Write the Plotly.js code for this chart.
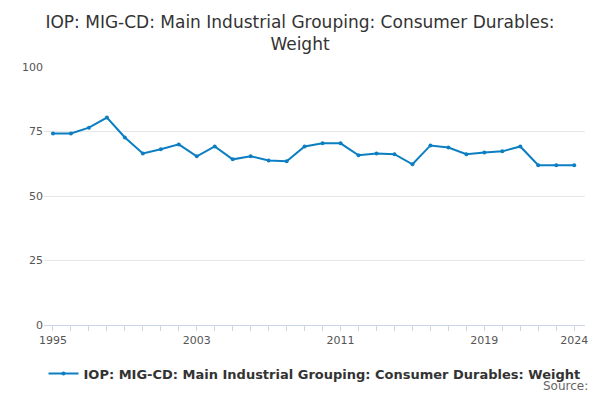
<!DOCTYPE html>
<html>
<head>
<script src="https://cdn.plot.ly/plotly-3.0.1.min.js"></script>
<style>body{margin:0}#chart{width:600px;height:400px}</style>
</head>
<body>
<div id="chart"></div>
<script>
const years = [1995,1996,1997,1998,1999,2000,2001,2002,2003,2004,2005,2006,2007,2008,2009,
  2010,2011,2012,2013,2014,2015,2016,2017,2018,2019,2020,2021,2022,2023,2024];
const weights = [74.2,74.2,76.5,80.4,72.7,66.5,68.1,70.0,65.4,69.2,64.2,65.4,63.8,63.5,69.2,
  70.4,70.4,65.8,66.5,66.2,62.3,69.6,68.8,66.2,66.9,67.3,69.2,61.9,61.9,61.9];
const tickYears = [1995, 2003, 2011, 2019, 2024];
const seriesName = "<b>IOP: MIG-CD: Main Industrial Grouping: Consumer Durables: Weight</b>";

const trace = {
  type: "scatter",
  mode: "lines+markers",
  x: years,
  y: weights,
  name: seriesName,
  line: { color: "#0b7fc1", width: 2 },
  marker: { color: "#0b7fc1", size: 4 },
};

const layout = {
  width: 600,
  height: 400,
  font: { family: "DejaVu Sans, sans-serif", color: "#555" },
  title: {
    text: "IOP: MIG-CD: Main Industrial Grouping: Consumer Durables:<br>Weight",
    font: { size: 17, color: "#333" },
    x: 0.5,
    y: 0.93,
    yanchor: "middle",
  },
  margin: { t: 67, r: 15, b: 73, l: 44 },
  xaxis: {
    range: [1994.5, 2024.6],
    tickvals: tickYears,
    ticks: "outside",
    ticklen: 5,
    tickcolor: "#ccd6eb",
    showline: true,
    linecolor: "#ccd6eb",
    showgrid: false,
    tickfont: { size: 11, color: "#555" },
    minor: { dtick: 1, ticks: "outside", ticklen: 5, tickcolor: "#ccd6eb" },
  },
  yaxis: {
    range: [0, 100],
    tickvals: [0, 25, 50, 75, 100],
    gridcolor: "#e6e6e6",
    zeroline: false,
    tickfont: { size: 11, color: "#555" },
  },
  showlegend: true,
  legend: {
    orientation: "h",
    x: 0.5,
    xanchor: "center",
    y: -0.13,
    yanchor: "top",
    font: { size: 13, color: "#333" },
  },
  annotations: [
    {
      text: "Source:",
      xref: "paper",
      yref: "paper",
      x: 1.01,
      y: -0.2,
      xanchor: "right",
      yanchor: "top",
      showarrow: false,
      font: { size: 12, color: "#666" },
    },
  ],
  plot_bgcolor: "#fff",
  paper_bgcolor: "#fff",
};

Plotly.newPlot("chart", [trace], layout, { displayModeBar: false });
</script>
</body>
</html>
